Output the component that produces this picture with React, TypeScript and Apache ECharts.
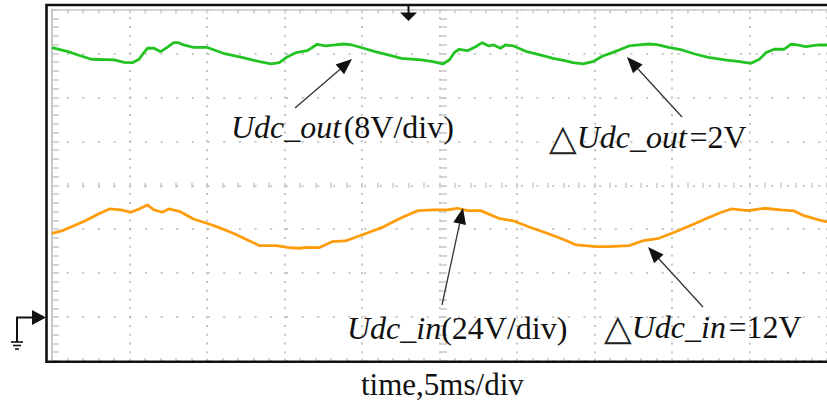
import React, { useEffect, useRef } from "react";
import * as echarts from "echarts";

// Udc_out trace (8 V/div), time in ms (5 ms/div)
const OUT_TIME_MS = [
  0, 0.19, 1.04, 1.68, 2.54, 4.02, 4.66, 5.19, 5.62, 5.89, 6.15, 6.58, 7.01, 7.43, 7.85, 8.17, 8.49, 9.13, 9.98,
  11.05, 12.32, 13.39, 14.13, 14.67, 15.2, 15.73, 16.48, 17.11, 17.64, 18.28, 18.82, 19.35, 20.1, 20.84, 21.69,
  22.54, 23.82, 24.57, 25.21, 25.63, 25.95, 26.27, 26.8, 27.33, 27.76, 28.18, 28.5, 28.93, 29.25, 29.78, 30.63,
  31.48, 32.33, 33.08, 33.61, 34.25, 34.89, 35.53, 36.16, 36.7, 37.23, 37.87, 38.51, 39.04, 39.79, 40.64, 41.48,
  42.34, 43.41, 44.36, 45.1, 45.64, 46.06, 46.6, 47.24, 47.66, 48.08, 48.62, 49.47, 50.0,
];
const OUT_VOLT = [
  49.06, 48.94, 48.32, 47.72, 46.94, 46.81, 46.39, 46.32, 46.94, 48.03, 48.94, 48.94, 48.32, 49.12, 49.96, 49.96,
  49.54, 49.12, 49.12, 48.03, 47.23, 46.5, 46.08, 46.32, 47.41, 48.14, 48.5, 49.67, 49.36, 49.54, 49.72, 49.54,
  48.94, 48.32, 47.72, 47.12, 46.81, 46.5, 46.08, 46.81, 48.14, 48.76, 48.5, 49.23, 49.96, 49.36, 49.54, 48.94,
  49.54, 49.36, 48.32, 47.72, 47.12, 46.68, 46.32, 46.08, 46.5, 47.54, 48.14, 48.76, 49.36, 49.54, 49.72, 49.6,
  49.12, 48.63, 47.9, 47.3, 46.81, 46.5, 46.21, 46.94, 48.14, 48.76, 48.76, 49.67, 49.54, 49.23, 49.54, 49.54,
];

// Udc_in trace (24 V/div)
const IN_TIME_MS = [
  0, 0.62, 1.26, 2.11, 2.96, 3.7, 4.45, 5.09, 5.62, 6.15, 6.58, 7.11, 7.54, 8.28, 9.13, 9.98, 10.62, 11.69, 12.75,
  13.39, 14.45, 15.31, 15.95, 16.48, 17.22, 18.07, 18.92, 19.99, 21.26, 22.54, 23.61, 24.67, 25.52, 26.16, 26.8,
  27.65, 28.82, 29.78, 30.84, 32.12, 33.08, 33.83, 35.1, 35.95, 37.23, 38.08, 39.15, 40.0, 41.27, 42.34, 43.19,
  43.83, 44.89, 45.96, 47.02, 47.88, 48.51, 49.47, 50.0,
];
const IN_VOLT = [
  45.77, 47.03, 49.38, 52.49, 56.15, 59.04, 58.5, 57.24, 59.04, 61.23, 58.5, 57.24, 59.04, 57.57, 53.58, 51.23,
  49.38, 45.77, 41.57, 39.0, 39.0, 37.91, 37.58, 38.12, 37.91, 41.18, 41.57, 44.84, 48.83, 54.29, 58.12, 58.5,
  58.5, 59.43, 58.12, 58.12, 53.97, 52.49, 49.05, 45.23, 42.11, 39.38, 38.45, 38.45, 39.0, 41.57, 43.04, 45.77,
  50.3, 54.29, 57.24, 59.04, 58.12, 59.43, 58.5, 57.95, 55.38, 53.04, 51.94,
];

// Scope scales
const TIME_RANGE = [0, 50]; // 10 div x 5 ms
const TIME_DIV = 5;
const OUT_RANGE = [-8, 56]; // 8 V/div, ground 1 div above bottom
const OUT_DIV = 8;
const IN_RANGE = [-24, 168]; // 24 V/div
const IN_DIV = 24;

const LABEL_OUT = "Udc_out";
const LABEL_IN = "Udc_in";
const OUT_SCALE = "(8V/div)";
const IN_SCALE = "(24V/div)";
const OUT_DELTA = "=2V";
const IN_DELTA = "=12V";
const X_TITLE = "time,5ms/div";

const SERIF = "'Liberation Serif', 'Times New Roman', serif";
const FS = 32;

function arrow(tail: number[], tip: number[]) {
  const dx = tip[0] - tail[0];
  const dy = tip[1] - tail[1];
  const len = Math.hypot(dx, dy);
  const ux = dx / len;
  const uy = dy / len;
  const hl = 16;
  const hw = 6.5;
  const bx = tip[0] - ux * hl;
  const by = tip[1] - uy * hl;
  const px = -uy;
  const py = ux;
  return [
    {
      type: "line",
      shape: { x1: tail[0], y1: tail[1], x2: bx, y2: by },
      style: { stroke: "#333", lineWidth: 1.3 },
      z: 20,
    },
    {
      type: "polygon",
      shape: {
        points: [
          [tip[0], tip[1]],
          [bx + px * hw, by + py * hw],
          [bx - px * hw, by - py * hw],
        ],
      },
      style: { fill: "#111" },
      z: 20,
    },
  ];
}

function richText(x: number, y: number, text: string) {
  return {
    type: "text",
    x,
    y,
    z: 20,
    style: {
      text,
      verticalAlign: "middle",
      align: "left",
      fill: "#111",
      fontFamily: SERIF,
      fontSize: FS,
      rich: {
        i: { fontStyle: "italic", fontFamily: SERIF, fontSize: FS, fill: "#111" },
        r: { fontFamily: SERIF, fontSize: FS, fill: "#111" },
        s: { fontFamily: SERIF, fontSize: 10, fill: "#111" },
        d: { fontFamily: "'DejaVu Sans', sans-serif", fontSize: 36, fill: "#222" },
      },
    },
  };
}

export default function App() {
  const ref = useRef<HTMLDivElement>(null);
  useEffect(() => {
    const chart = echarts.init(ref.current!, null, { renderer: "svg" });
    const gridGray = "#b5b5b5";
    const tickGray = "#c8c8c8";
    const outData = OUT_TIME_MS.map((t, i) => [t, OUT_VOLT[i]]);
    const inData = IN_TIME_MS.map((t, i) => [t, IN_VOLT[i]]);
    const hidden = { show: false };
    const option: any = {
      animation: false,
      backgroundColor: "#fff",
      grid: { left: 52, top: 9.5, width: 783, height: 351.5, containLabel: false },
      xAxis: [
        {
          type: "value",
          min: TIME_RANGE[0],
          max: TIME_RANGE[1],
          interval: TIME_DIV,
          position: "bottom",
          axisLine: { show: false, onZero: false },
          axisTick: { show: true, inside: true, length: 3, lineStyle: { color: tickGray, width: 1.5 } },
          minorTick: { show: true, splitNumber: 5, length: 3, lineStyle: { color: tickGray, width: 1.5 } },
          axisLabel: hidden,
          splitLine: { show: true, lineStyle: { color: gridGray, width: 1.6, type: [2, 6.79], dashOffset: 1 } },
        },
        {
          type: "value",
          min: TIME_RANGE[0],
          max: TIME_RANGE[1],
          interval: TIME_DIV,
          position: "top",
          axisLine: { show: true, onZero: false, lineStyle: { color: tickGray, width: 1.5 } },
          axisTick: { show: true, inside: true, length: 4, lineStyle: { color: tickGray, width: 1.5 } },
          minorTick: { show: true, splitNumber: 5, length: 4, lineStyle: { color: tickGray, width: 1.5 } },
          axisLabel: hidden,
          splitLine: hidden,
        },
        {
          type: "value",
          min: TIME_RANGE[0],
          max: TIME_RANGE[1],
          interval: TIME_DIV,
          position: "bottom",
          offset: -173.25,
          axisLine: { show: false, onZero: false },
          axisTick: { show: true, inside: true, length: 5, lineStyle: { color: tickGray, width: 1.5 } },
          minorTick: { show: true, splitNumber: 5, length: 5, lineStyle: { color: tickGray, width: 1.5 } },
          axisLabel: hidden,
          splitLine: hidden,
        },
      ],
      yAxis: [
        {
          type: "value",
          min: OUT_RANGE[0],
          max: OUT_RANGE[1],
          interval: OUT_DIV,
          position: "left",
          axisLine: { show: true, onZero: false, lineStyle: { color: tickGray, width: 2 } },
          axisTick: { show: true, inside: true, length: 7, lineStyle: { color: tickGray, width: 1.5 } },
          minorTick: { show: true, splitNumber: 5, length: 7, lineStyle: { color: tickGray, width: 1.5 } },
          axisLabel: hidden,
          splitLine: { show: true, lineStyle: { color: gridGray, width: 1.6, type: [2, 13.66], dashOffset: 1 } },
        },
        {
          type: "value",
          min: IN_RANGE[0],
          max: IN_RANGE[1],
          interval: IN_DIV,
          position: "right",
          show: false,
          axisLine: { onZero: false },
        },
        {
          type: "value",
          min: OUT_RANGE[0],
          max: OUT_RANGE[1],
          interval: OUT_DIV,
          position: "left",
          offset: -388,
          axisLine: { show: false, onZero: false },
          axisTick: { show: true, inside: true, length: 7, lineStyle: { color: tickGray, width: 1.5 } },
          minorTick: { show: true, splitNumber: 5, length: 7, lineStyle: { color: tickGray, width: 1.5 } },
          axisLabel: hidden,
          splitLine: hidden,
        },
      ],
      series: [
        {
          name: LABEL_OUT,
          type: "line",
          xAxisIndex: 0,
          yAxisIndex: 0,
          data: outData,
          showSymbol: false,
          lineStyle: { color: "#22c322", width: 2.8 },
          z: 5,
        },
        {
          name: LABEL_IN,
          type: "line",
          xAxisIndex: 0,
          yAxisIndex: 1,
          data: inData,
          showSymbol: false,
          lineStyle: { color: "#ff9c0c", width: 2.8 },
          z: 5,
        },
      ],
      graphic: [
        {
          type: "rect",
          shape: { x: 46.5, y: 5, width: 900, height: 356.7 },
          style: { fill: "none", stroke: "#111", lineWidth: 2.6 },
          z: 15,
        },
        // trigger marker
        { type: "line", shape: { x1: 408.5, y1: 6, x2: 408.5, y2: 13 }, style: { stroke: "#111", lineWidth: 2 }, z: 16 },
        {
          type: "polygon",
          shape: { points: [[400, 12.5], [417, 12.5], [408.5, 21]] },
          style: { fill: "#111" },
          z: 16,
        },
        // ground marker
        {
          type: "polyline",
          shape: { points: [[17, 342], [17, 317.5], [33, 317.5]] },
          style: { stroke: "#111", lineWidth: 2, fill: "none" },
          z: 16,
        },
        {
          type: "polygon",
          shape: { points: [[32, 310], [32, 325], [46, 317.5]] },
          style: { fill: "#111" },
          z: 16,
        },
        { type: "line", shape: { x1: 11, y1: 342, x2: 23, y2: 342 }, style: { stroke: "#111", lineWidth: 1.6 }, z: 16 },
        { type: "line", shape: { x1: 13, y1: 345.5, x2: 21, y2: 345.5 }, style: { stroke: "#111", lineWidth: 1.6 }, z: 16 },
        { type: "line", shape: { x1: 15, y1: 349, x2: 19, y2: 349 }, style: { stroke: "#111", lineWidth: 1.6 }, z: 16 },
        // annotations
        ...arrow([295, 108], [352, 59]),
        ...arrow([682, 117], [627, 57]),
        ...arrow([442, 305], [463, 208]),
        ...arrow([703, 307], [648, 247]),
        richText(231, 127, `{i|${LABEL_OUT}}{s| }{r|${OUT_SCALE}}`),
        richText(549, 137, `{d|△}{i|${LABEL_OUT}}{s| }{r|${OUT_DELTA}}`),
        richText(347, 328, `{i|${LABEL_IN}}{r|${IN_SCALE}}`),
        richText(604, 327, `{d|△}{i|${LABEL_IN}}{s| }{r|${IN_DELTA}}`),
        {
          type: "text",
          x: 361,
          y: 384,
          z: 20,
          style: {
            text: X_TITLE,
            fill: "#111",
            fontFamily: SERIF,
            fontSize: 31,
            lineHeight: 30,
            verticalAlign: "middle",
          },
        },
      ],
    };
    chart.setOption(option);
    return () => chart.dispose();
  }, []);
  return (
    <div
      ref={ref}
      style={{ position: "fixed", left: 0, top: 0, width: 827, height: 402, background: "#fff", overflow: "hidden" }}
    />
  );
}
